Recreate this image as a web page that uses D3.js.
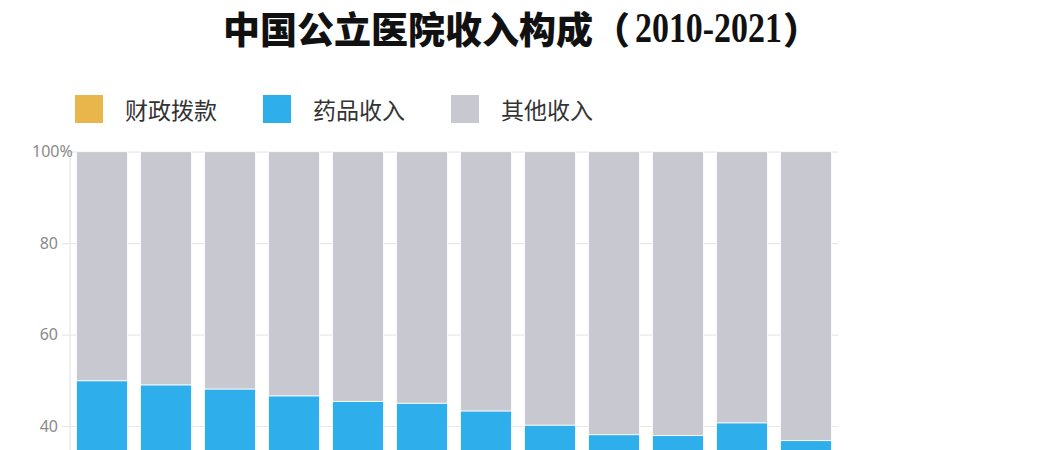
<!DOCTYPE html>
<html><head><meta charset="utf-8">
<script src="https://cdn.jsdelivr.net/npm/d3@7"></script>
<style>
html,body{margin:0;padding:0;background:#fff;overflow:hidden;}
svg{display:block;}
</style></head>
<body>
<script>
const years = ["2010","2011","2012","2013","2014","2015","2016","2017","2018","2019","2020","2021"];
const seriesNames = ["财政拨款","药品收入","其他收入"];
const seriesColors = ["#E8B64A","#2EAEEB","#C7C8D0"];
const finance = [8.2, 8.6, 8.2, 7.9, 7.9, 8.9, 9.1, 9.4, 9.6, 9.9, 15.2, 11.6];
const drug    = [41.7, 40.4, 39.9, 38.7, 37.5, 36.1, 34.2, 30.8, 28.5, 28.0, 25.5, 25.2];
const other   = [50.1, 51.0, 51.9, 53.4, 54.6, 55.0, 56.7, 59.8, 61.9, 62.1, 59.3, 63.2];
const yTicks = [40, 60, 80, 100];   // ticks visible in the 450px-high view
const titleCn = "中国公立医院收入构成（";
const titleNum = "2010-2021";
const titleEnd = "）";

const W = 1059, H = 450;
const svg = d3.select("body").append("svg").attr("width", W).attr("height", H);

const rows = years.map((y, i) => ({year: y, "财政拨款": finance[i], "药品收入": drug[i], "其他收入": other[i]}));
const stack = d3.stack().keys(seriesNames)(rows);

const x = d3.scaleBand().domain(years).range([70, 838]).paddingInner(0.2).paddingOuter(0.1);
const y = d3.scaleLinear().domain([0, 100]).range([608.9, 151.7]);
const color = d3.scaleOrdinal().domain(seriesNames).range(seriesColors);

// y axis + grid
const yAxis = d3.axisLeft(y).tickValues(yTicks).tickSize(8).tickPadding(4).tickFormat(d => d);
const ga = svg.append("g").attr("transform", "translate(70,0)").call(yAxis);
ga.select(".domain").attr("d", `M0,${H}V${y(100)}`).attr("stroke", "#e6e6ea").attr("stroke-width", 1.2);
ga.selectAll(".tick line").attr("x1", -8).attr("x2", 768).attr("stroke", "#e8e8ec").attr("stroke-width", 1.2);
ga.selectAll(".tick text").attr("fill", "#8a8a8a").style("font-family", "'Noto Sans', 'DejaVu Sans', sans-serif").style("font-size", "16px");
ga.selectAll(".tick").filter(d => d === 100).select("text").attr("text-anchor", "start").attr("x", -38).text(d => d + "%");

// bars
svg.append("g").selectAll("g").data(stack).join("g")
  .attr("fill", d => color(d.key))
  .selectAll("rect").data(d => d).join("rect")
  .attr("x", d => x(d.data.year))
  .attr("y", d => y(d[1]))
  .attr("width", x.bandwidth())
  .attr("height", d => y(d[0]) - y(d[1]))
  .attr("stroke", "#fff").attr("stroke-width", 0.8);

// title
const tx = 223, ty = 28;
const t1 = svg.append("text").attr("x", tx).attr("y", ty).attr("dominant-baseline", "central").attr("fill", "#111")
  .style("font-family", "'Noto Sans CJK SC', sans-serif").style("font-weight", 900).style("font-size", "37px").text(titleCn);
const w1 = t1.node().getComputedTextLength();
const t2 = svg.append("text").attr("dominant-baseline", "central").attr("fill", "#111")
  .style("font-family", "'Liberation Serif', 'DejaVu Serif', serif").style("font-weight", 700).style("font-size", "42px")
  .text(titleNum);
const w2 = t2.node().getComputedTextLength();
const numW = 147;
t2.attr("transform", `translate(${tx + w1 + 5},${ty}) scale(${numW / w2},1)`);
svg.append("text").attr("x", tx + w1 + 5 + numW + 1).attr("y", ty).attr("dominant-baseline", "central").attr("fill", "#111")
  .style("font-family", "'Noto Sans CJK SC', sans-serif").style("font-weight", 900).style("font-size", "37px").text(titleEnd);

// legend
const lg = svg.append("g").selectAll("g").data(seriesNames).join("g")
  .attr("transform", (d, i) => `translate(${75 + i * 188},0)`);
lg.append("rect").attr("x", 0).attr("y", 95).attr("width", 28).attr("height", 28).attr("fill", d => color(d));
lg.append("text").attr("x", 50).attr("y", 109).attr("dominant-baseline", "central")
  .style("font-family", "'Noto Sans CJK SC', sans-serif").style("font-size", "23px")
  .attr("fill", "#333").text(d => d);
</script>
</body></html>
